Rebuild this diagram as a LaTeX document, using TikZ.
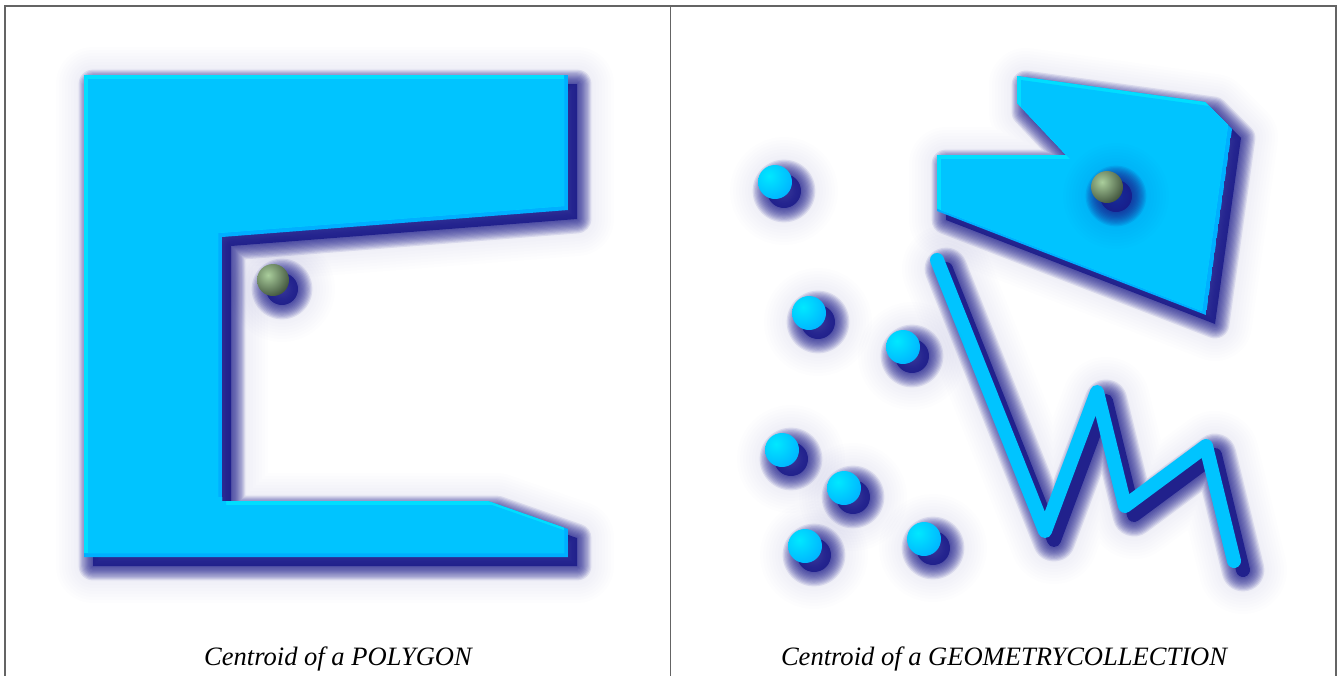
\documentclass[tikz,border=0pt]{standalone}
\usepackage{fontspec}
\setmainfont{Liberation Serif}
\definecolor{cmain}{RGB}{0,196,255}
\definecolor{clight}{RGB}{0,222,255}
\definecolor{cdark}{RGB}{0,175,255}
\definecolor{dotin}{RGB}{0,232,255}
\definecolor{dotout}{RGB}{0,125,255}
\definecolor{shadowc}{RGB}{28,28,140}
\definecolor{framec}{RGB}{100,100,100}
\definecolor{ballin}{RGB}{170,206,156}
\definecolor{ballout}{RGB}{22,34,22}
\newcommand\shshape[1]{%
  \begin{scope}[shift={(9,9)},line join=round]
    \foreach \w in {1,...,8} {\draw[shadowc,opacity=0.008,line width=(26+\w*6)*0.75pt] #1;}
    \fill[shadowc,opacity=0.85] #1;
    \foreach \i in {1,...,12} {\draw[shadowc,opacity=0.1,line width=\i*2.4*0.75pt] #1;}
  \end{scope}}
\newcommand\shline[1]{%
  \begin{scope}[shift={(9,9)},line join=round,line cap=round]
    \foreach \w in {1,...,8} {\draw[shadowc,opacity=0.008,line width=(40+\w*6)*0.75pt] #1;}
    \draw[shadowc,opacity=0.85,line width=14*0.75pt] #1;
    \foreach \i in {1,...,12} {\draw[shadowc,opacity=0.1,line width=(14+\i*2.4)*0.75pt] #1;}
  \end{scope}}
\newcommand\bevel[1]{%
  \begin{scope}
    \clip #1;
    \fill[cdark] #1;
    \fill[clight,shift={(-4,-4)}] #1;
    \begin{scope}
      \clip[shift={(-4,-4)}] #1;
      \fill[cmain,shift={(4,4)}] #1;
    \end{scope}
  \end{scope}}
\newcommand\dotc[1]{%
  \shshape{(#1) circle (17)}
  \begin{scope}
    \clip (#1) circle (17);
    \shade[shift={(#1)},inner color=dotin,outer color=dotout] (-6,-6) circle (52);
  \end{scope}}
\newcommand\ballc[1]{%
  \shshape{(#1) circle (16)}
  \begin{scope}
    \clip (#1) circle (16);
    \shade[shift={(#1)},inner color=ballin,outer color=ballout] (-5,-5) circle (32);
  \end{scope}}
\tikzset{frameline/.style={framec,line width=1.3*0.75pt},
  caption/.style={anchor=base,font=\fontsize{19.9pt}{24pt}\selectfont\itshape,inner sep=0pt}}
\begin{document}
\begin{tikzpicture}[x=0.75pt,y=-0.75pt]
\useasboundingbox (0,0) rectangle (1341,675);
\fill[white] (0,0) rectangle (1341,675);
\def\polyL{(84,75) -- (568,75) -- (568,210) -- (222,237) -- (222,501) -- (488,501) -- (568,529) -- (568,557) -- (84,557) -- cycle}
\def\polyR{(1017,76) -- (1205,102) -- (1232,129) -- (1206,315) -- (937,211) -- (937,155) -- (1066,155) -- (1017,103) -- cycle}
\def\zig{(937,260) -- (1045,531) -- (1097,392) -- (1125,506) -- (1206,446) -- (1234,561)}
% left panel
\shshape{\polyL}
\bevel{\polyL}
\ballc{273,280}
% right panel
\shshape{\polyR}
\bevel{\polyR}
\shline{\zig}
\draw[cmain,line width=14*0.75pt,line cap=round,line join=round] \zig;
\dotc{775,182}
\dotc{809,313}
\dotc{903,347}
\dotc{782,450}
\dotc{844,488}
\dotc{805,546}
\dotc{924,539}
\ballc{1107,187}
% frame
\draw[frameline] (5,680) -- (5,6) -- (1336,6) -- (1336,680);
\draw[frameline] (670.5,6) -- (670.5,680);
\node[caption] (capL) at (338,665) {Centroid of a POLYGON};
\node[caption] (capR) at (1004,665) {Centroid of a GEOMETRYCOLLECTION};
\end{tikzpicture}
\end{document}
